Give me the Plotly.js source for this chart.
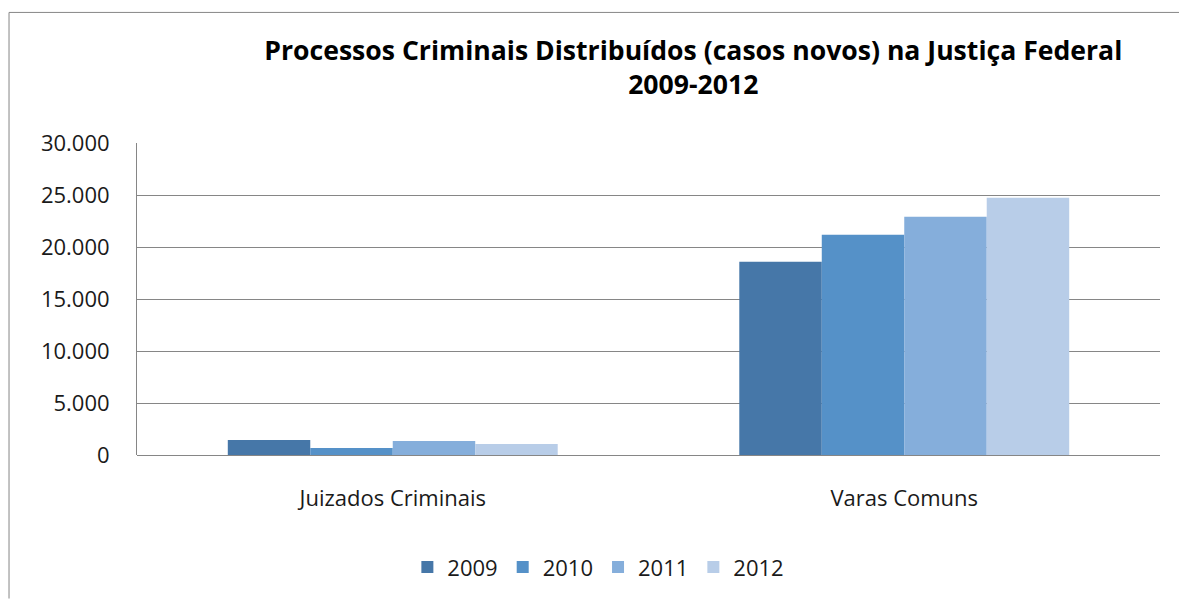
<!DOCTYPE html>
<html>
<head>
<meta charset="utf-8">
<script src="https://cdn.plot.ly/plotly-3.0.1.min.js"></script>
<style>
html,body{margin:0;padding:0;background:#fff;}
#chart{width:1179px;height:599px;}
</style>
</head>
<body>
<div id="chart"></div>
<script>
const categories = ["Juizados Criminais", "Varas Comuns"];
const seriesNames = ["2009", "2010", "2011", "2012"];
const values2009 = [1440, 18590];
const values2010 = [670, 21180];
const values2011 = [1340, 22900];
const values2012 = [1050, 24730];
const yTickVals = [0, 5000, 10000, 15000, 20000, 25000, 30000];
const yTickText = ["0", "5.000", "10.000", "15.000", "20.000", "25.000", "30.000"];
const colors = ["#4677A8", "#5591C8", "#85AEDB", "#B8CDE8"];
const allValues = [values2009, values2010, values2011, values2012];

const traces = seriesNames.map((name, i) => ({
  type: "bar",
  name: name,
  x: categories,
  y: allValues[i],
  marker: {color: colors[i], line: {width: 0}},
  hoverinfo: "x+y+name"
}));

const font = "'Open Sans', 'DejaVu Sans', sans-serif";

const layout = {
  width: 1179,
  height: 599,
  margin: {l: 137, r: 19, t: 143, b: 143, pad: 0},
  paper_bgcolor: "#ffffff",
  plot_bgcolor: "#ffffff",
  barmode: "group",
  bargap: 0.355,
  bargroupgap: 0,
  showlegend: true,
  title: {
    text: "Processos Criminais Distribuídos (casos novos) na Justiça Federal<br>2009-2012",
    x: 0.588, xanchor: "center", xref: "container",
    y: 0.9, yanchor: "top", yref: "container",
    font: {family: font, size: 26.6, color: "#000000", weight: "bold"}
  },
  xaxis: {
    type: "category",
    showgrid: false,
    showline: false,
    zeroline: false,
    ticks: "",
    ticklabelstandoff: 28,
    tickfont: {family: font, size: 22, color: "#1a1a1a"}
  },
  yaxis: {
    range: [0, 30000],
    tickvals: yTickVals,
    ticktext: yTickText,
    showgrid: true,
    gridcolor: "#868686",
    gridwidth: 1,
    showline: true,
    linecolor: "#868686",
    linewidth: 1,
    zeroline: true,
    zerolinecolor: "#868686",
    zerolinewidth: 1,
    ticks: "",
    ticklabelstandoff: 22,
    tickfont: {family: font, size: 22, color: "#1a1a1a"}
  },
  legend: {
    orientation: "h",
    x: 0.451, xanchor: "center",
    y: -0.355, yanchor: "middle",
    font: {family: font, size: 22, color: "#1a1a1a"},
    itemwidth: 30,
    traceorder: "normal"
  },
  shapes: [
    {type: "line", xref: "paper", yref: "paper", x0: -0.1251, x1: 1.02, y0: 1.4185, y1: 1.4185,
     line: {color: "#868686", width: 1}, layer: "below"},
    {type: "line", xref: "paper", yref: "paper", x0: -0.1251, x1: -0.1251, y0: 1.4185, y1: -0.46,
     line: {color: "#868686", width: 1}, layer: "below"}
  ]
};

Plotly.newPlot("chart", traces, layout, {displayModeBar: false, staticPlot: true});
</script>
</body>
</html>
